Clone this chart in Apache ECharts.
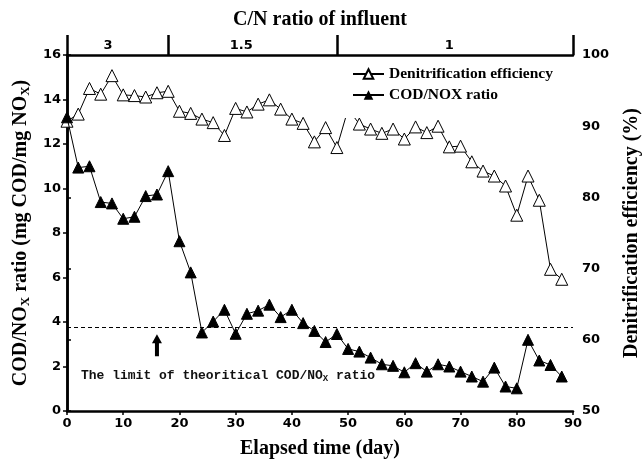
<!DOCTYPE html>
<html>
<head>
<meta charset="utf-8">
<script src="https://cdn.jsdelivr.net/npm/echarts@6/dist/echarts.min.js"></script>
<style>
	html,body{margin:0;padding:0;background:#fff;}
	#chart{width:643px;height:459px;}
</style>
</head>
<body>
<div id="chart"></div>
<script>
// elapsed time, days
const days = [0,2,4,6,8,10,12,14,16,18,20,22,24,26,28,30,32,34,36,38,40,42,44,
	46,48,50,52,54,56,58,60,62,64,66,68,70,72,74,76,78,80,82,84,86,88];
// denitrification efficiency (%)
const denitEff = [90.7,91.7,95.3,94.5,97.1,94.4,94.3,94.1,94.7,94.9,92.1,91.8,91.0,
	90.5,88.7,92.5,92.0,93.1,93.7,92.4,91.0,90.4,87.8,89.8,87.0,92.4,90.3,89.6,89.0,
	89.6,88.2,89.9,89.1,90.0,87.1,87.2,85.0,83.7,83.0,81.6,77.5,83.0,79.6,69.9,68.5];
// COD/NOx ratio
const codNox = [13.2,10.94,11.0,9.39,9.33,8.64,8.73,9.66,9.73,10.78,7.63,6.23,3.53,
	4.02,4.55,3.47,4.37,4.51,4.78,4.22,4.55,3.95,3.6,3.1,3.46,2.79,2.67,2.40,2.10,
	2.03,1.74,2.15,1.77,2.10,2.0,1.77,1.55,1.32,1.95,1.10,1.02,3.2,2.27,2.07,1.55];
// C/N ratio phases on the top axis
const phaseBounds = [0,18,48,90];
const phaseLabelAt = [7.3,31,68];
const phaseLabels = ['3','1.5','1'];
const limitRatio = 3.75;
const arrowDay = 16;

const serif = '"Liberation Serif","Times New Roman",serif';
const sans = '"DejaVu Sans",sans-serif';

let myEchart = echarts.init(document.getElementById('chart'));

let tickLabel = {color:'#000',fontFamily:sans,fontWeight:'bold',fontSize:13};
let axisLine = {show:true,lineStyle:{color:'#000',width:2.5}};
let nameStyle = {color:'#000',fontFamily:serif,fontWeight:'bold',fontSize:20};

let opt = {
	backgroundColor:'#fff',
	animation:false,
	grid:{left:67,right:70,top:55,bottom:48,outerBoundsMode:'none',containLabel:false},
	legend:{
		left:341,
		top:62,
		orient:'vertical',
		itemGap:5,
		itemWidth:31,
		itemHeight:12,
		padding:[4,5,15,11],
		backgroundColor:'#fff',
		textStyle:{color:'#000',fontFamily:serif,fontWeight:'bold',fontSize:15.5},
		data:['Denitrification efficiency','COD/NOX ratio']
	},
	xAxis:[
		{
			type:'value',
			min:0,max:90,interval:10,
			name:'Elapsed time (day)',
			nameLocation:'middle',
			nameGap:28,
			nameTextStyle:nameStyle,
			axisLine:axisLine,
			axisTick:{show:true,length:4,lineStyle:{color:'#000',width:1.5}},
			axisLabel:Object.assign({margin:6},tickLabel),
			splitLine:{show:false}
		},
		{
			type:'value',
			position:'top',
			min:0,max:90,
			name:'C/N ratio of influent',
			nameLocation:'middle',
			nameGap:25,
			nameTextStyle:nameStyle,
			axisLine:axisLine,
			axisTick:{show:true,length:20,customValues:phaseBounds,lineStyle:{color:'#000',width:2.5}},
			axisLabel:Object.assign({
				margin:3,
				customValues:phaseLabelAt,
				formatter:function(v){
					let i = phaseLabelAt.indexOf(v);
					return i >= 0 ? phaseLabels[i] : '';
				}
			},tickLabel),
			splitLine:{show:false}
		}
	],
	yAxis:[
		{
			type:'value',
			min:0,max:16,interval:2,
			name:'COD/NO{s|X} ratio (mg COD/mg NO{s|X})',
			nameLocation:'middle',
			nameGap:34,
			nameTextStyle:Object.assign({
				rich:{s:{fontFamily:serif,fontWeight:'bold',fontSize:13,padding:[9,0,0,0]}}
			},nameStyle),
			axisLine:axisLine,
			axisTick:{show:true,length:4,lineStyle:{color:'#000',width:1.5}},
			axisLabel:Object.assign({margin:6},tickLabel),
			splitLine:{show:false}
		},
		{
			type:'value',
			min:50,max:100,interval:10,
			name:'Denitrification efficiency (%)',
			nameLocation:'middle',
			nameGap:49,
			nameTextStyle:nameStyle,
			axisLine:axisLine,
			axisTick:{show:true,length:4,lineStyle:{color:'#000',width:1.5}},
			axisLabel:Object.assign({margin:9},tickLabel),
			splitLine:{show:false}
		}
	],
	graphic:[
		{
			type:'text',
			left:81,
			top:369,
			style:{
				text:'The limit of theoritical COD/NO{s|X} ratio',
				fill:'#111',
				font:'bold 13px "Liberation Mono", monospace',
				rich:{s:{font:'bold 9px "Liberation Mono", monospace',padding:[6,0,0,0]}}
			}
		}
	],
	series:[
		{
			name:'Denitrification efficiency',
			type:'line',
			xAxisIndex:0,
			yAxisIndex:1,
			symbol:'triangle',
			symbolSize:12,
			lineStyle:{color:'#000',width:1},
			itemStyle:{color:'#fff',borderColor:'#000',borderWidth:1},
			data:days.map((d,i)=>[d,denitEff[i]]),
			z:2
		},
		{
			name:'COD/NOX ratio',
			type:'line',
			xAxisIndex:0,
			yAxisIndex:0,
			symbol:'triangle',
			symbolSize:11,
			lineStyle:{color:'#000',width:1},
			itemStyle:{color:'#000',borderColor:'#000'},
			data:days.map((d,i)=>[d,codNox[i]]),
			markLine:{
				silent:true,
				symbol:'none',
				label:{show:false},
				lineStyle:{color:'#000',width:1.2,type:[4,3]},
				data:[{yAxis:limitRatio}]
			},
			markPoint:{
				silent:true,
				label:{show:false},
				data:[{
					coord:[arrowDay,2.95],
					symbol:'path://M5,0 L10,9 L7,9 L7,22 L3,22 L3,9 L0,9 Z',
					symbolSize:[10,22],
					itemStyle:{color:'#000'}
				}]
			},
			z:3
		}
	]
};
myEchart.setOption(opt);
</script>
</body>
</html>
